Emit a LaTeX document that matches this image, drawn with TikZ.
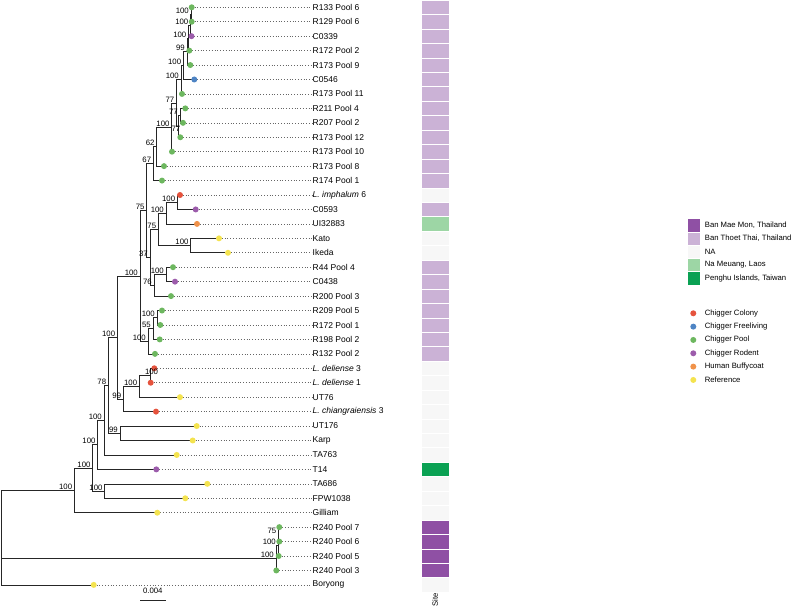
\documentclass[tikz,border=0pt]{standalone}
\usepackage{fontspec}
\setmainfont{Liberation Sans}
\usetikzlibrary{positioning}

\definecolor{colony}{HTML}{E5533D}
\definecolor{freeliv}{HTML}{4E84C4}
\definecolor{pool}{HTML}{6DB75F}
\definecolor{rodent}{HTML}{9C5CAB}
\definecolor{buffy}{HTML}{F0924A}
\definecolor{refyel}{HTML}{F4E34F}
\definecolor{maemon}{HTML}{8F50A4}
\definecolor{thoet}{HTML}{CBB2D6}
\definecolor{nasite}{HTML}{F7F7F7}
\definecolor{meuang}{HTML}{9DD6A5}
\definecolor{penghu}{HTML}{0AA153}

% row of a tip (y grows downwards)
\newcommand{\tipy}[1]{7.3+(#1-1)*14.44}

% tips: name / x / row / point colour / site colour / label
\def\tiplist{%
R133p6/191.7/1/pool/thoet/R133 Pool 6,
R129p6/191.7/2/pool/thoet/R129 Pool 6,
C0339/191.5/3/rodent/thoet/C0339,
R172p2/189.3/4/pool/thoet/R172 Pool 2,
R173p9/190.3/5/pool/thoet/R173 Pool 9,
C0546/194.3/6/freeliv/thoet/C0546,
R173p11/182/7/pool/thoet/R173 Pool 11,
R211p4/185.3/8/pool/thoet/R211 Pool 4,
R207p2/183/9/pool/thoet/R207 Pool 2,
R173p12/180.3/10/pool/thoet/R173 Pool 12,
R173p10/172/11/pool/thoet/R173 Pool 10,
R173p8/164/12/pool/thoet/R173 Pool 8,
R174p1/162/13/pool/thoet/R174 Pool 1,
Limph6/180/14/colony/nasite/{\textit{L. imphalum} 6},
C0593/195.7/15/rodent/thoet/C0593,
UI32883/197/16/buffy/meuang/UI32883,
Kato/219/17/refyel/nasite/Kato,
Ikeda/228/18/refyel/nasite/Ikeda,
R44p4/173/19/pool/thoet/R44 Pool 4,
C0438/175/20/rodent/thoet/C0438,
R200p3/171/21/pool/thoet/R200 Pool 3,
R209p5/162/22/pool/thoet/R209 Pool 5,
R172p1/160.3/23/pool/thoet/R172 Pool 1,
R198p2/159.7/24/pool/thoet/R198 Pool 2,
R132p2/155/25/pool/thoet/R132 Pool 2,
Ldel3/154.3/26/colony/nasite/{\textit{L. deliense} 3},
Ldel1/150.7/27/colony/nasite/{\textit{L. deliense} 1},
UT76/180/28/refyel/nasite/UT76,
Lchi3/156/29/colony/nasite/{\textit{L. chiangraiensis} 3},
UT176/196.7/30/refyel/nasite/UT176,
Karp/192.7/31/refyel/nasite/Karp,
TA763/176.7/32/refyel/nasite/TA763,
T14/156.3/33/rodent/penghu/T14,
TA686/207.3/34/refyel/nasite/TA686,
FPW1038/185.3/35/refyel/nasite/FPW1038,
Gilliam/157.3/36/refyel/nasite/Gilliam,
R240p7/279.3/37/pool/maemon/R240 Pool 7,
R240p6/279.3/38/pool/maemon/R240 Pool 6,
R240p5/278.7/39/pool/maemon/R240 Pool 5,
R240p3/276.3/40/pool/maemon/R240 Pool 3,
Boryong/93.7/41/refyel/nasite/Boryong}

\begin{document}
\begin{tikzpicture}[x=1pt,y=-1pt,
  branch/.style={line width=0.6pt, black!85},
  lead/.style={black!60, line width=0.6pt, dash pattern=on 0.6pt off 2.2pt},
  tiplab/.style={anchor=west, inner sep=0.5pt, font=\fontsize{8.5}{9}\selectfont},
  boot/.style={anchor=south east, inner sep=0.5pt, xshift=-1.5pt, font=\fontsize{7.8}{8}\selectfont},
  heat/.style={draw=white, line width=0.5pt},
  keytext/.style={anchor=west, inner sep=0pt, font=\fontsize{7.7}{8}\selectfont}
]
\useasboundingbox (0,0) rectangle (796,612);

% tips, labels and the site column
\foreach \id/\x/\row/\dotc/\site/\lbl in \tiplist {
  \coordinate (\id) at (\x,{\tipy{\row}});
  \node[tiplab] (lab\id) at (312,{\tipy{\row}}) {\lbl};
  \fill[\site, heat] (421,{\tipy{\row}-7.22}) rectangle (449,{\tipy{\row}+7.22});
}
\node[rotate=90, inner sep=0pt, font=\fontsize{7.7}{8}\selectfont] (sitelab) at (435,600) {Site};

% internal nodes
\coordinate (n1) at (191.0,14.52);
\coordinate (n2) at (190.5,25.35);
\coordinate (n3) at (188.5,37.99);
\coordinate (n4) at (187.0,51.53);
\coordinate (n5) at (183.3,65.51);
\coordinate (n6) at (181.0,79.73);
\coordinate (m1) at (180.0,115.6);
\coordinate (m2) at (178.5,126.43);
\coordinate (t77) at (176.5,103.08);
\coordinate (h100) at (171.7,127.39);
\coordinate (p62) at (156.7,146.77);
\coordinate (p67) at (153.3,163.67);
\coordinate (a100) at (177.3,202.24);
\coordinate (b100) at (166.0,213.07);
\coordinate (ki100) at (190.7,245.56);
\coordinate (q75) at (158.3,229.31);
\coordinate (r100) at (166.0,274.44);
\coordinate (r76) at (154.0,285.27);
\coordinate (s37) at (150.0,257.29);
\coordinate (u75) at (146.7,210.48);
\coordinate (v100) at (157.0,317.76);
\coordinate (v55) at (153.0,328.59);
\coordinate (w100) at (148.0,341.23);
\coordinate (x100) at (140.0,275.86);
\coordinate (y100) at (149.8,375.52);
\coordinate (z100) at (139.3,386.35);
\coordinate (z99) at (123.3,398.99);
\coordinate (g100) at (117.3,337.43);
\coordinate (k99) at (120.0,433.28);
\coordinate (g78) at (108.3,385.36);
\coordinate (e100) at (104.0,420.15);
\coordinate (c100) at (97.7,444.77);
\coordinate (d100) at (104.7,491.04);
\coordinate (bb100) at (92.7,467.9);
\coordinate (ot100) at (74.3,490.3);
\coordinate (ra75) at (278.5,534.36);
\coordinate (rb100) at (278.0,545.19);
\coordinate (rc100) at (276.0,557.83);
\coordinate (root) at (1.0,537.6);

% branches
\draw[branch] (n1) |- (R133p6) (n1) |- (R129p6);
\draw[branch] (n2) |- (n1) (n2) |- (C0339);
\draw[branch] (n3) |- (n2) (n3) |- (R172p2);
\draw[branch] (n4) |- (n3) (n4) |- (R173p9);
\draw[branch] (n5) |- (n4) (n5) |- (C0546);
\draw[branch] (n6) |- (n5) (n6) |- (R173p11);
\draw[branch] (m1) |- (R211p4) (m1) |- (R207p2);
\draw[branch] (m2) |- (m1) (m2) |- (R173p12);
\draw[branch] (t77) |- (n6) (t77) |- (m2);
\draw[branch] (h100) |- (t77) (h100) |- (R173p10);
\draw[branch] (p62) |- (h100) (p62) |- (R173p8);
\draw[branch] (p67) |- (p62) (p67) |- (R174p1);
\draw[branch] (a100) |- (Limph6) (a100) |- (C0593);
\draw[branch] (b100) |- (a100) (b100) |- (UI32883);
\draw[branch] (ki100) |- (Kato) (ki100) |- (Ikeda);
\draw[branch] (q75) |- (b100) (q75) |- (ki100);
\draw[branch] (r100) |- (R44p4) (r100) |- (C0438);
\draw[branch] (r76) |- (r100) (r76) |- (R200p3);
\draw[branch] (s37) |- (q75) (s37) |- (r76);
\draw[branch] (u75) |- (p67) (u75) |- (s37);
\draw[branch] (v100) |- (R209p5) (v100) |- (R172p1);
\draw[branch] (v55) |- (v100) (v55) |- (R198p2);
\draw[branch] (w100) |- (v55) (w100) |- (R132p2);
\draw[branch] (x100) |- (u75) (x100) |- (w100);
\draw[branch] (y100) |- (Ldel3) (y100) |- (Ldel1);
\draw[branch] (z100) |- (y100) (z100) |- (UT76);
\draw[branch] (z99) |- (z100) (z99) |- (Lchi3);
\draw[branch] (g100) |- (x100) (g100) |- (z99);
\draw[branch] (k99) |- (UT176) (k99) |- (Karp);
\draw[branch] (g78) |- (g100) (g78) |- (k99);
\draw[branch] (e100) |- (g78) (e100) |- (TA763);
\draw[branch] (c100) |- (e100) (c100) |- (T14);
\draw[branch] (d100) |- (TA686) (d100) |- (FPW1038);
\draw[branch] (bb100) |- (c100) (bb100) |- (d100);
\draw[branch] (ot100) |- (bb100) (ot100) |- (Gilliam);
\draw[branch] (ra75) |- (R240p7) (ra75) |- (R240p6);
\draw[branch] (rb100) |- (ra75) (rb100) |- (R240p5);
\draw[branch] (rc100) |- (rb100) (rc100) |- (R240p3);
\draw[branch] (root) |- (ot100) (root) |- (rc100) (root) |- (Boryong);

% leaders and tip points
\foreach \id/\x/\row/\dotc/\site/\lbl in \tiplist {
  \draw[lead] (\id) -- (lab\id.west);
  \fill[\dotc] (\id) circle (3pt);
}

% support values
\foreach \n/\v in {n1/100, n2/100, n3/100, n4/99, n5/100, n6/100, m1/77,
  t77/77, h100/100, p62/62, p67/67, a100/100, b100/100, ki100/100, q75/75,
  r100/100, r76/76, s37/37, u75/75, v100/100, v55/55, w100/100, x100/100,
  z100/100, z99/99, g100/100, k99/99, g78/78, e100/100, c100/100, d100/100,
  bb100/100, ot100/100, ra75/75, rb100/100, rc100/100}
  \node[boot] (sv\n) at (\n) {\v};
\node[boot, xshift=4pt, yshift=-6pt] (svm2) at (m2) {77};
\node[boot, anchor=south west, xshift=-4pt] (svy100) at (y100) {100};

% scale bar
\coordinate (sbl) at (140,600);
\coordinate (sbr) at (165.7,600);
\draw[branch] (sbl) -- (sbr);
\node[inner sep=0pt, font=\fontsize{7.8}{8}\selectfont] (sbtext) at (152.8,590.7) {0.004};

% legend: site
\fill[maemon, heat] (687,218.5) rectangle (700,231.8);
\fill[thoet, heat] (687,231.8) rectangle (700,245.1);
\fill[nasite, heat] (687,245.1) rectangle (700,258.4);
\fill[meuang, heat] (687,258.4) rectangle (700,271.7);
\fill[penghu, heat] (687,271.7) rectangle (700,285);
\node[keytext] (kmae) at (704.7,225.1) {Ban Mae Mon, Thailand};
\node[keytext] (kthoet) at (704.7,238.4) {Ban Thoet Thai, Thailand};
\node[keytext] (kna) at (704.7,251.7) {NA};
\node[keytext] (kmeuang) at (704.7,265) {Na Meuang, Laos};
\node[keytext] (kpenghu) at (704.7,278.3) {Penghu Islands, Taiwan};

% legend: sample type
\foreach \c/\k/\t in {colony/0/Chigger Colony, freeliv/1/Chigger Freeliving,
  pool/2/Chigger Pool, rodent/3/Chigger Rodent, buffy/4/Human Buffycoat,
  refyel/5/Reference} {
  \fill[\c] (693.3,{313.3+\k*13.33}) circle (3pt);
  \node[keytext] (k\c) at (704.7,{313.3+\k*13.33}) {\t};
}
\end{tikzpicture}
\end{document}
